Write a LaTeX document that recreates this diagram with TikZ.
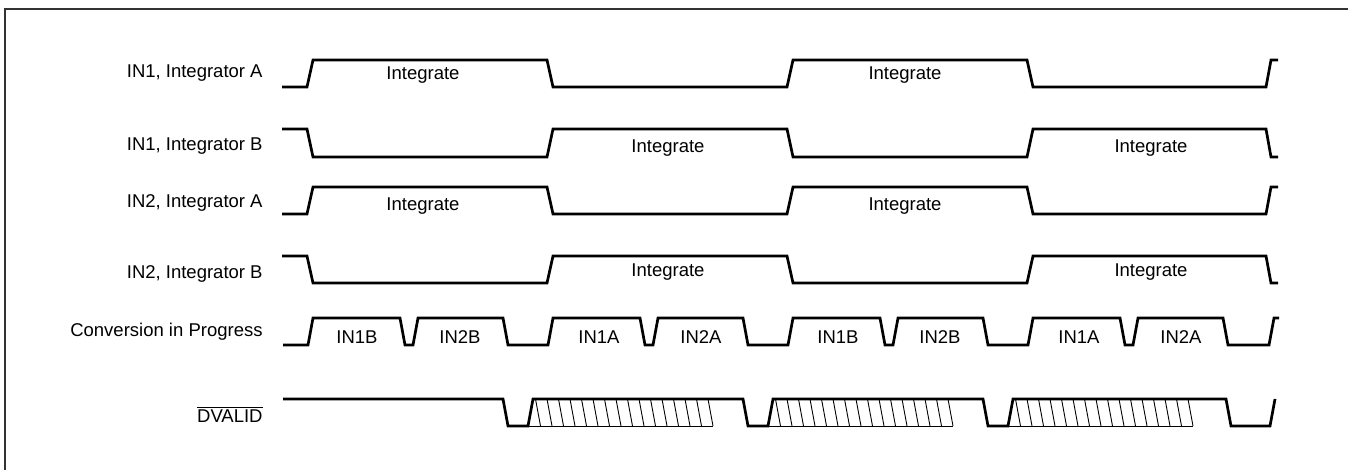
\documentclass[tikz,border=0pt]{standalone}
\usepackage{fontspec}
\setmainfont{Liberation Sans}

\begin{document}
\begin{tikzpicture}[x=0.5pt,y=-0.5pt]
    \tikzstyle{signal} = [draw, line width=1.35pt, line join=miter]
    \tikzstyle{hatch} = [draw, line width=0.45pt]
    \tikzstyle{frame} = [draw=black!80, line width=1.3pt]
    \tikzstyle{lbl} = [anchor=base east, inner sep=0pt,
               font=\fontsize{9.25}{11}\selectfont]
    \tikzstyle{txt} = [anchor=base, inner sep=0pt,
               font=\fontsize{9.25}{11}\selectfont]

    \useasboundingbox (0,0) rectangle (1348,470);

    % Frame
    \draw[frame] (5,490) -- (5,9) -- (1370,9);

    % Row labels
    \node[lbl] (in1a) at (263,77.5) {IN1, Integrator A};
    \node[lbl] (in1b) at (263,150.5) {IN1, Integrator B};
    \node[lbl] (in2a) at (263,207.5) {IN2, Integrator A};
    \node[lbl] (in2b) at (263,278.5) {IN2, Integrator B};
    \node[lbl] (conv) at (263,336.5) {Conversion in Progress};
    \node[lbl] (dval) at (263,422.5) {$\overline{\hbox{DVALID}}$};

    % Integrator waveforms
    \draw[signal] (282,87) -- (307,87) -- (313,60) -- (547,60) -- (553,87) -- (787,87)
      -- (793,60) -- (1027,60) -- (1033,87) -- (1266,87) -- (1271,60) -- (1278,60);
    \draw[signal] (282,129) -- (307,129) -- (313,157) -- (547,157) -- (553,129) -- (787,129)
      -- (793,157) -- (1027,157) -- (1033,129) -- (1266,129) -- (1271,157) -- (1278,157);
    \draw[signal] (282,214) -- (307,214) -- (313,187) -- (547,187) -- (553,214) -- (787,214)
      -- (793,187) -- (1027,187) -- (1033,214) -- (1266,214) -- (1271,187) -- (1278,187);
    \draw[signal] (282,256) -- (307,256) -- (313,283) -- (547,283) -- (553,256) -- (787,256)
      -- (793,283) -- (1027,283) -- (1033,256) -- (1266,256) -- (1271,283) -- (1278,283);

    \node[txt] (int1) at (423,79.5) {Integrate};
    \node[txt] (int2) at (905,79.5) {Integrate};
    \node[txt] (int3) at (668,152.5) {Integrate};
    \node[txt] (int4) at (1151,152.5) {Integrate};
    \node[txt] (int5) at (423,210.5) {Integrate};
    \node[txt] (int6) at (905,210.5) {Integrate};
    \node[txt] (int7) at (668,276.5) {Integrate};
    \node[txt] (int8) at (1151,276.5) {Integrate};

    % Conversion in progress
    \draw[signal] (283,345) \foreach \p in {308,548,788,1028} {
      -- (\p,345) -- (\p+5,318) -- (\p+92,318) -- (\p+97,345) -- (\p+105,345)
      -- (\p+110,318) -- (\p+195,318) -- (\p+200,345) }
      -- (1269,345) -- (1274,318) -- (1279,318);

    \node[txt] (c1) at (357,343) {IN1B};
    \node[txt] (c2) at (460,343) {IN2B};
    \node[txt] (c3) at (599,343) {IN1A};
    \node[txt] (c4) at (701,343) {IN2A};
    \node[txt] (c5) at (838,343) {IN1B};
    \node[txt] (c6) at (940,343) {IN2B};
    \node[txt] (c7) at (1079,343) {IN1A};
    \node[txt] (c8) at (1181,343) {IN2A};

    % DVALID
    \draw[signal] (283,399) \foreach \p in {548,788,1028} {
      -- (\p-45,399) -- (\p-40,426) -- (\p-20,426) -- (\p-15,399) }
      -- (1226,399) -- (1231,426) -- (1270,426) -- (1275,399);

    \foreach \p in {548,788,1028} {
      \draw[hatch] (\p-20,426) -- (\p+165,426);
      \foreach \j in {0,...,15}
        \draw[hatch] (\p+160-11.5*\j,399) -- ++(5,27);
    }
  \end{tikzpicture}
\end{document}
